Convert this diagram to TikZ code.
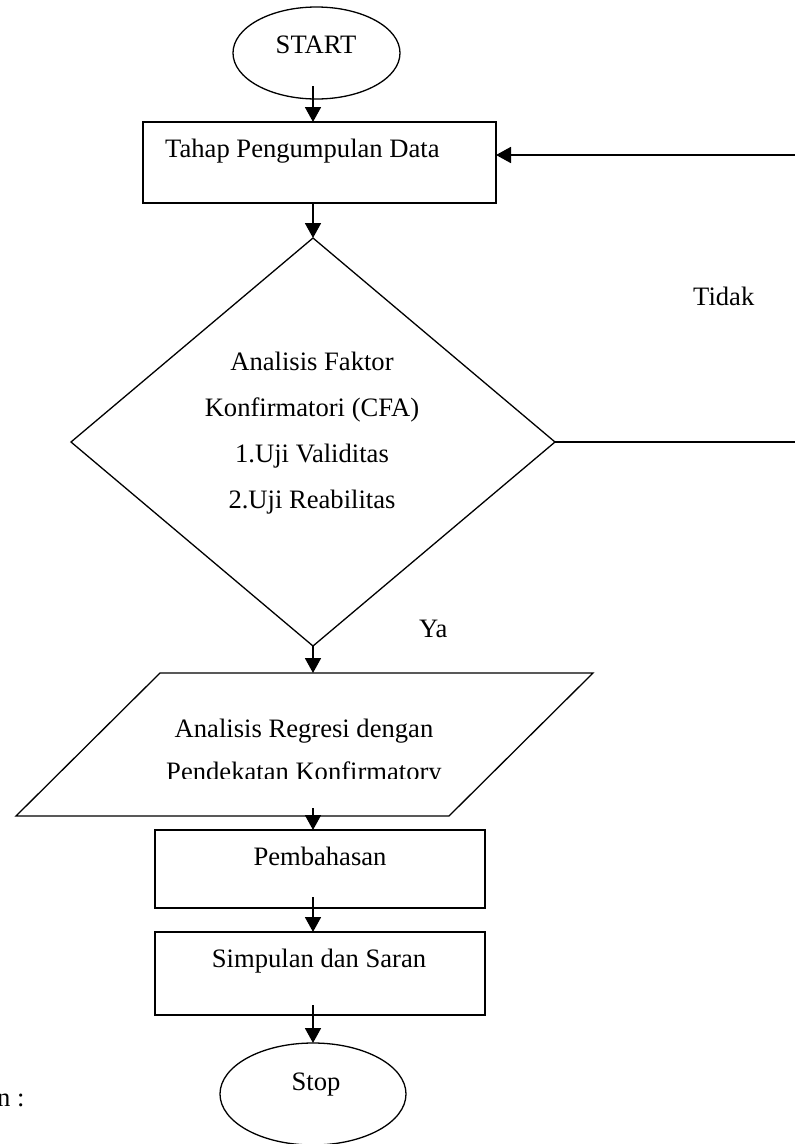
\documentclass[tikz,border=0pt]{standalone}
\usepackage{fontspec}
\setmainfont{Liberation Serif}
\usetikzlibrary{shapes.geometric,arrows.meta}
\begin{document}
\begin{tikzpicture}[x=1pt,y=-1pt,
  box/.style={draw,line width=1.3pt,inner sep=0pt,outer sep=0pt},
  arr/.style={line width=1.8pt,-{Triangle[length=15pt,width=16pt]}},
  lbl/.style={anchor=base,inner sep=0pt,font=\fontsize{26.6}{30}\selectfont},
]
\clip (0,0) rectangle (795,1144);

% flow axis
\coordinate (axis) at (313,0);

% shapes
\node[box,ellipse,minimum width=167pt,minimum height=92pt] (start) at (316.5,53) {};
\node[box,rectangle,minimum width=353pt,minimum height=81pt] (r1) at (319.5,162.5) {};
\node[box,diamond,minimum width=484pt,minimum height=408pt] (d) at (313,442) {};
\draw[line width=1.3pt] (160,673) -- (593,673) -- (449,816) -- (16,816) -- cycle;
\coordinate (pt) at (313,673);
\coordinate (pb) at (313,816);
\node[box,rectangle,minimum width=330pt,minimum height=78pt] (pemb) at (320,869) {};
\node[box,rectangle,minimum width=330pt,minimum height=83pt] (simp) at (320,973.5) {};
\node[box,ellipse,minimum width=186pt,minimum height=102pt] (stop) at (313,1094) {};

% texts
\node[lbl] (tstart) at (316,53) {START};
\node[lbl,anchor=base west] (tr1) at (165,157) {Tahap Pengumpulan Data};
\node[lbl] (td1) at (312,370) {Analisis Faktor};
\node[lbl] (td2) at (312,416) {Konfirmatori (CFA)};
\node[lbl] (td3) at (312,462) {1.Uji Validitas};
\node[lbl] (td4) at (312,508) {2.Uji Reabilitas};
\node[lbl] (tp1) at (304,737) {Analisis Regresi dengan};
\begin{scope}
  \clip (0,0) rectangle (795,778);
  \node[lbl] (tp2) at (304,780) {Pendekatan Konfirmatory};
\end{scope}
\node[lbl] (tpemb) at (320,865) {Pembahasan};
\node[lbl] (tsimp) at (319,967) {Simpulan dan Saran};
\node[lbl] (tstop) at (316,1090) {Stop};
\node[lbl,anchor=base west] (ttidak) at (693,305) {Tidak};
\node[lbl,anchor=base west] (tya) at (419,637) {Ya};
\node[lbl,anchor=base west] (tn) at (-3,1106) {n :};

% connectors
\draw[arr] ([yshift=13pt]axis |- start.south) -- (axis |- r1.north);
\draw[arr] (axis |- r1.south) -- (d.north);
\draw[arr] (d.south) -- (pt);
\draw[arr] ([yshift=8pt]pb) -- (axis |- pemb.north);
\draw[arr] ([yshift=11pt]axis |- pemb.south) -- (axis |- simp.north);
\draw[arr] ([yshift=10pt]axis |- simp.south) -- (stop.north);
\draw[arr] (d.east) -- (810,442) |- ([yshift=7.5pt]r1.east);
\end{tikzpicture}
\end{document}
